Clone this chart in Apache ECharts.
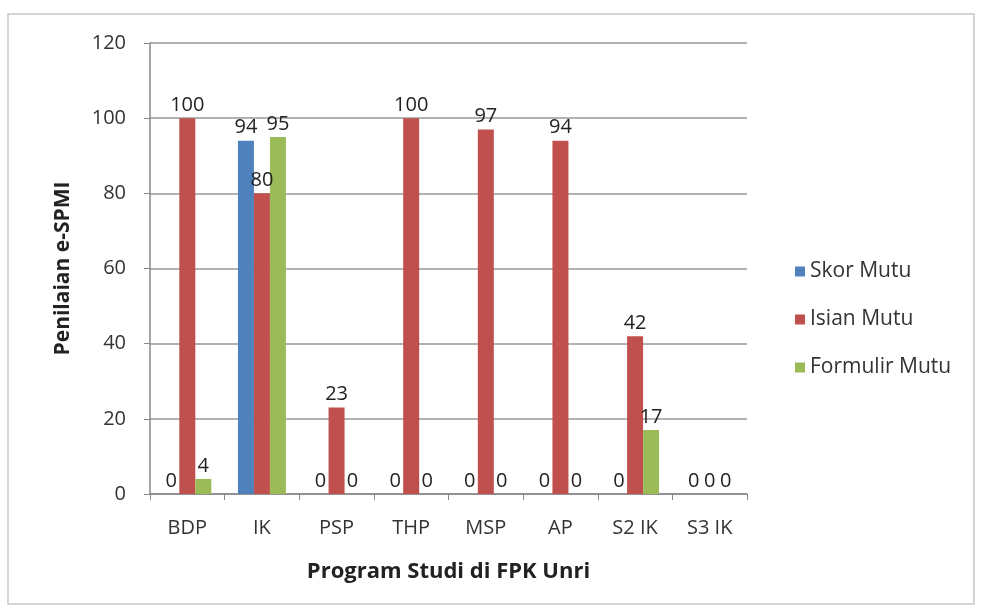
<!DOCTYPE html>
<html><head><meta charset="utf-8">
<script src="https://cdn.jsdelivr.net/npm/echarts@6/dist/echarts.min.js"></script>
<style>html,body{margin:0;padding:0;background:#fff}#c{width:981px;height:609px}</style>
</head><body><div id="c"></div>
<script>
const categories = ['BDP','IK','PSP','THP','MSP','AP','S2 IK','S3 IK'];
const skorMutu = [0,94,0,0,0,0,0,0];
const isianMutu = [100,80,23,100,97,94,42,0];
const formulirMutu = [4,95,0,0,0,0,17,0];
const yTicks = [0,20,40,60,80,100,120];

const font = 'Open Sans';
const chart = echarts.init(document.getElementById('c'));
const lbl = {show:true, position:'top', color:'#222', fontFamily:font, fontSize:20, distance:3};
chart.setOption({
  animation:false,
  graphic:[{type:'rect', shape:{x:8,y:14,width:966,height:590}, style:{fill:'none', stroke:'#c8c8c8', lineWidth:1.5}}],
  grid:{left:150, right:234, top:43, bottom:115},
  legend:{orient:'vertical', left:790, top:256, itemGap:27, itemWidth:10, itemHeight:10, icon:'rect',
    textStyle:{fontFamily:font, fontSize:21, color:'#333'},
    data:['Skor Mutu','Isian Mutu','Formulir Mutu']},
  xAxis:{type:'category', data:categories, name:'Program Studi di FPK Unri', nameLocation:'middle', nameGap:67,
    nameTextStyle:{fontFamily:font, fontSize:22, fontWeight:'bold', color:'#222'},
    axisLine:{lineStyle:{color:'#888', width:1.5}}, axisTick:{show:true, alignWithLabel:false, length:6, lineStyle:{color:'#888'}},
    axisLabel:{fontFamily:font, fontSize:20, color:'#333', margin:24}},
  yAxis:{type:'value', min:0, max:120, interval:20, name:'Penilaian e-SPMI', nameLocation:'middle', nameGap:76,
    nameTextStyle:{fontFamily:font, fontSize:21, fontWeight:'bold', color:'#222'},
    axisLine:{show:true, lineStyle:{color:'#888', width:1.5}}, axisTick:{show:true, length:6, lineStyle:{color:'#888'}},
    axisLabel:{fontFamily:font, fontSize:20, color:'#333', margin:24, customValues:yTicks},
    splitLine:{lineStyle:{color:'#999', width:1.5}}},
  series:[
    {name:'Skor Mutu', type:'bar', data:skorMutu, barWidth:16, barGap:'0%', itemStyle:{color:'#4F81BD'}, label:lbl},
    {name:'Isian Mutu', type:'bar', data:isianMutu, barWidth:16, barGap:'0%', itemStyle:{color:'#C0504D'}, label:lbl},
    {name:'Formulir Mutu', type:'bar', data:formulirMutu, barWidth:16, barGap:'0%', itemStyle:{color:'#9BBB59'}, label:lbl}
  ]
});
</script></body></html>
